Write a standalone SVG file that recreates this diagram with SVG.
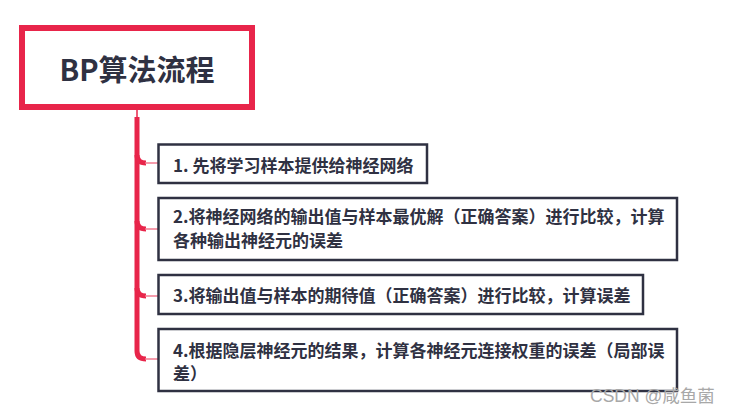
<svg xmlns="http://www.w3.org/2000/svg" width="737" height="415" viewBox="0 0 737 415">
<style>
.t{font-family:"Noto Sans CJK SC","Noto Sans",sans-serif;font-weight:bold;fill:#2f3142;}
.box{fill:#fff;stroke:#2f3142;stroke-width:2.5;}
.trunk{fill:none;stroke:#e8254a;stroke-width:5;stroke-linecap:butt;}
.br{fill:none;stroke:#f27a8f;stroke-width:1.5;}
.wm{font-family:"Liberation Sans","Noto Sans CJK SC",sans-serif;font-size:17.5px;fill:#a8a8a8;}
</style>
<rect width="737" height="415" fill="#fff"/>
<g id="connectors">
<line x1="137" y1="110" x2="137" y2="118" stroke="#e8254a" stroke-width="1.5"/>
<path class="trunk" d="M137,117 L137,351 Q137,359 146,359"/>
<path class="trunk" d="M137,155 Q137,163 146,163"/>
<path class="trunk" d="M137,221 Q137,229 146,229"/>
<path class="trunk" d="M137,288 Q137,296 146,296"/>
<path class="br" d="M145,163 L158,163"/>
<path class="br" d="M145,229 L158,229"/>
<path class="br" d="M145,296 L158,296"/>
<path class="br" d="M145,359 L158,359"/>
</g>
<g id="root">
<rect x="22" y="28" width="230" height="79" fill="#fff" stroke="#e8254a" stroke-width="6"/>
<text class="t" x="137" y="81" font-size="29" text-anchor="middle">BP算法流程</text>
</g>
<g id="step1">
<rect class="box" x="158.5" y="144.5" width="268.5" height="38.5"/>
<text class="t" x="173" y="172" font-size="17">1. 先将学习样本提供给神经网络</text>
</g>
<g id="step2">
<rect class="box" x="158.5" y="198" width="518.5" height="62"/>
<text class="t" x="173" y="223" font-size="17">2.将神经网络的输出值与样本最优解（正确答案）进行比较，计算</text>
<text class="t" x="173" y="247" font-size="17">各种输出神经元的误差</text>
</g>
<g id="step3">
<rect class="box" x="158.5" y="275" width="484.5" height="39"/>
<text class="t" x="173" y="302" font-size="17">3.将输出值与样本的期待值（正确答案）进行比较，计算误差</text>
</g>
<g id="step4">
<rect class="box" x="158.5" y="329" width="518.5" height="62"/>
<text class="t" x="173" y="357" font-size="17">4.根据隐层神经元的结果，计算各神经元连接权重的误差（局部误</text>
<text class="t" x="173" y="380" font-size="17">差）</text>
</g>
<text class="wm" x="590" y="402">CSDN @咸鱼菌</text>
</svg>
